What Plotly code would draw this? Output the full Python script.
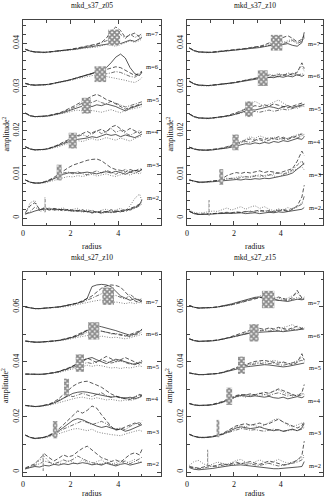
import plotly.graph_objects as go

# radius grid shared by every curve
r = [0.1, 0.3, 0.5, 0.7, 0.9, 1.1, 1.3, 1.5, 1.7, 1.9, 2.1, 2.3, 2.5, 2.7, 2.9,
     3.1, 3.3, 3.5, 3.7, 3.9, 4.1, 4.3, 4.5, 4.7, 4.9, 5.0]
modes = [2, 3, 4, 5, 6, 7]

# amplitude^2 in units of 1e-3, one row per m (2..7), before the vertical offset

# ---- mkd_s37_z05
s37_z05_solid = [
    [1.0,1.2,1.6,1.9,2.0,2.1,2.0,2.0,1.9,1.8,1.6,1.7,1.6,1.5,1.3,1.4,1.2,1.5,1.3,1.6,1.4,1.8,2.0,2.4,3.0,4.2],
    [1.2,0.7,0.5,0.5,0.7,1.0,1.5,2.0,2.5,2.8,2.9,2.7,2.9,3.0,2.8,2.6,2.9,3.1,2.8,3.2,2.9,2.5,3.0,3.4,3.2,3.6],
    [1.3,0.8,0.6,0.6,0.7,0.9,1.2,1.6,2.0,2.4,2.8,3.0,3.1,3.3,3.6,3.4,3.8,4.2,3.9,4.1,3.6,4.0,3.7,3.4,3.9,4.2],
    [1.5,0.9,0.7,0.7,0.8,0.9,1.1,1.3,1.6,2.0,2.4,2.8,3.1,3.3,3.0,3.4,3.2,3.6,3.3,3.0,2.5,2.0,2.6,2.9,3.3,3.6],
    [0.8,0.5,0.4,0.4,0.5,0.6,0.8,1.0,1.2,1.5,1.8,2.1,2.4,2.8,3.1,3.5,3.9,4.4,5.5,6.8,7.5,6.6,4.4,3.0,2.6,3.4],
    [1.1,0.7,0.5,0.4,0.4,0.5,0.6,0.7,0.8,1.0,1.1,1.2,1.4,1.5,1.7,1.9,2.1,2.3,2.5,2.6,2.4,2.8,3.2,2.9,3.4,3.8],
]
s37_z05_dash = [
    [1.2,2.8,3.5,2.0,2.2,1.8,2.2,2.0,1.6,2.0,1.8,1.5,1.9,1.4,1.8,1.2,1.6,1.3,1.9,1.5,1.7,1.4,2.2,2.6,3.2,3.6],
    [1.2,0.7,0.5,0.5,0.8,1.2,1.8,2.6,3.4,4.0,4.6,5.0,5.4,5.7,5.9,6.0,5.6,4.8,4.0,3.6,3.4,3.0,3.6,3.2,3.8,3.5],
    [1.3,0.8,0.6,0.6,0.7,0.9,1.3,1.8,2.4,2.9,3.4,3.8,4.4,4.8,4.2,4.9,5.3,4.6,5.8,6.2,5.4,4.8,5.5,4.9,4.4,4.8],
    [1.5,0.9,0.7,0.7,0.8,1.0,1.2,1.5,1.9,2.4,3.0,3.6,4.2,4.9,5.4,5.8,5.3,4.6,4.2,3.6,3.0,2.4,2.8,3.1,3.5,3.4],
    [0.8,0.5,0.4,0.4,0.5,0.6,0.8,1.0,1.2,1.5,1.8,2.1,2.4,2.7,3.0,3.3,3.6,4.0,4.3,4.6,4.4,3.8,3.1,2.6,3.2,3.6],
    [1.1,0.7,0.5,0.4,0.4,0.5,0.6,0.7,0.8,1.0,1.2,1.4,1.6,1.8,2.0,2.3,2.7,3.6,5.2,6.2,5.4,3.8,4.4,4.8,3.9,4.2],
]
s37_z05_dot = [
    [1.0,3.5,4.0,1.5,1.8,2.4,1.7,2.1,2.3,1.6,2.0,2.2,1.5,1.9,1.6,1.3,1.8,2.0,1.5,1.9,2.2,1.6,2.8,4.5,5.5,3.8],
    [1.1,0.6,0.4,0.4,0.5,0.8,1.1,1.4,1.8,2.0,1.9,2.2,2.0,2.3,2.5,2.1,2.4,2.6,2.2,2.0,2.4,2.8,2.3,2.9,2.6,3.0],
    [1.2,0.7,0.5,0.5,0.6,0.8,1.0,1.3,1.7,2.1,2.4,2.7,2.5,2.9,3.2,2.8,3.0,3.4,3.1,2.8,3.3,3.0,2.6,3.2,3.5,3.8],
    [1.4,0.8,0.6,0.6,0.7,0.8,1.0,1.2,1.4,1.7,2.0,2.2,2.0,1.8,2.1,1.9,1.7,2.0,2.3,1.9,1.6,2.1,2.4,2.6,2.8,3.0],
    [0.7,0.4,0.3,0.3,0.4,0.5,0.7,0.9,1.1,1.3,1.6,1.9,2.1,2.3,2.5,2.8,2.6,2.4,2.2,2.0,1.8,1.5,1.2,1.0,1.6,2.2],
    [1.0,0.6,0.4,0.3,0.3,0.4,0.5,0.6,0.7,0.9,1.0,1.1,1.3,1.4,1.5,1.6,1.9,2.2,2.0,1.8,2.2,2.6,3.0,2.7,3.1,3.5],
]
s37_z05_dashdot = [
    [0.8,1.5,2.5,1.8,2.5,1.9,1.9,1.7,2.0,1.7,1.5,1.8,1.3,1.7,1.1,1.5,1.0,1.4,1.2,1.3,1.6,2.0,1.8,2.2,2.8,3.2],
    [1.2,0.7,0.5,0.5,0.7,1.1,1.6,2.2,2.8,3.0,2.6,3.1,2.6,2.4,2.9,3.3,2.8,3.4,3.0,2.5,3.1,3.6,3.0,2.7,3.3,3.8],
    [1.3,0.8,0.6,0.6,0.7,1.0,1.3,1.7,2.2,2.7,3.2,3.7,4.1,3.6,4.5,5.0,4.3,4.8,5.5,4.6,5.1,4.4,3.9,4.5,5.0,4.6],
    [1.5,0.9,0.7,0.7,0.8,0.9,1.1,1.4,1.8,2.2,2.7,3.2,3.8,3.5,4.0,4.4,3.9,3.6,4.2,3.8,3.3,2.9,3.2,3.6,3.9,4.1],
    [0.8,0.5,0.4,0.4,0.5,0.6,0.8,1.0,1.2,1.5,1.8,2.1,2.4,2.7,3.0,3.3,3.4,3.0,3.2,3.5,3.3,2.8,2.4,2.2,2.9,3.3],
    [1.1,0.7,0.5,0.4,0.4,0.5,0.6,0.7,0.8,1.0,1.1,1.3,1.5,1.7,1.9,2.2,2.6,3.0,3.4,3.9,4.5,3.6,4.6,3.8,4.3,4.7],
]
s37_z05_box_r = [0.93, 1.52, 2.09, 2.66, 3.25, 3.83]
s37_z05_box_w = [0.05, 0.21, 0.34, 0.38, 0.49, 0.50]
s37_z05_box_y = [3.0, 10.4, 17.7, 25.7, 32.9, 41.3]

# ---- mkd_s37_z10
s37_z10_solid = [
    [1.5,1.0,0.8,0.8,0.9,0.9,1.0,1.0,1.1,1.0,1.1,1.2,1.0,1.1,1.2,1.0,1.1,1.3,1.2,1.4,1.3,1.5,1.6,1.8,2.0,2.4],
    [1.2,0.9,0.7,0.7,0.7,0.8,0.9,1.0,1.1,1.2,1.3,1.2,1.4,1.3,1.5,1.4,1.6,1.5,1.7,1.9,2.2,2.4,2.8,3.6,4.5,5.0],
    [1.2,0.8,0.6,0.5,0.5,0.6,0.7,0.8,1.0,1.2,1.5,1.8,2.0,1.9,2.2,2.0,2.3,2.1,2.5,2.3,2.7,2.5,2.9,3.2,3.0,3.5],
    [1.3,0.7,0.4,0.3,0.3,0.4,0.5,0.6,0.8,1.0,1.3,1.7,2.0,2.3,2.2,2.5,2.7,3.0,2.8,2.5,2.9,3.2,2.8,3.1,3.3,3.5],
    [1.3,0.7,0.4,0.3,0.3,0.4,0.5,0.6,0.7,0.9,1.0,1.2,1.4,1.5,1.7,1.9,2.0,2.2,2.1,2.4,2.2,2.5,2.3,2.8,2.4,2.7],
    [1.4,0.8,0.5,0.4,0.4,0.4,0.5,0.6,0.7,0.8,0.9,1.0,1.1,1.3,1.4,1.5,1.7,1.9,2.1,2.0,2.2,2.4,2.0,1.8,2.6,5.0],
]
s37_z10_dash = [
    [1.6,1.1,0.9,0.9,1.0,1.0,1.1,1.2,1.3,1.2,1.4,1.3,1.5,1.4,1.6,1.8,1.5,1.7,1.4,1.6,1.8,1.5,2.0,2.8,4.8,7.5],
    [1.2,0.9,0.7,0.7,0.8,0.9,1.1,1.5,2.2,2.6,2.9,2.7,3.0,2.8,3.1,3.3,2.9,3.2,3.0,2.7,3.1,3.4,3.8,5.5,7.8,6.8],
    [1.2,0.8,0.6,0.5,0.6,0.7,0.8,1.0,1.3,1.7,2.1,2.5,2.8,3.1,2.8,3.2,2.9,3.4,3.1,3.6,3.2,3.0,3.4,3.8,4.2,3.6],
    [1.3,0.7,0.4,0.3,0.3,0.4,0.5,0.7,0.9,1.2,1.6,2.0,2.4,2.8,3.2,3.0,3.4,3.1,3.6,3.3,3.0,2.7,3.1,3.4,3.8,3.6],
    [1.3,0.7,0.4,0.3,0.3,0.4,0.5,0.6,0.8,0.9,1.1,1.3,1.5,1.7,1.9,2.1,2.4,2.7,2.5,2.8,2.6,3.0,2.7,3.3,5.5,4.2],
    [1.4,0.8,0.5,0.4,0.4,0.5,0.6,0.7,0.8,0.9,1.0,1.2,1.3,1.5,1.6,1.8,2.1,2.6,3.0,3.4,3.8,4.2,3.6,2.8,3.4,4.2],
]
s37_z10_dot = [
    [1.8,1.3,1.1,1.2,1.4,1.6,1.5,1.9,2.3,1.8,2.2,2.6,2.0,2.5,2.8,2.2,2.6,2.0,1.7,2.1,1.8,2.4,2.0,2.6,3.5,3.0],
    [1.1,0.8,0.6,0.6,0.7,0.8,1.0,1.3,1.6,1.5,1.8,2.1,1.7,2.0,2.3,1.9,2.2,2.5,2.1,1.9,2.4,2.8,3.2,3.8,4.2,3.5],
    [1.1,0.7,0.5,0.5,0.5,0.6,0.8,1.0,1.2,1.6,2.0,2.5,3.0,3.6,3.2,3.8,3.4,3.0,3.5,3.2,2.9,3.3,3.7,4.0,4.4,4.0],
    [1.2,0.6,0.3,0.2,0.2,0.3,0.4,0.6,0.8,1.1,1.5,2.0,2.6,3.4,4.2,3.6,3.0,3.5,4.0,4.5,3.8,3.2,2.8,2.6,3.0,3.4],
    [1.2,0.6,0.3,0.2,0.2,0.3,0.4,0.5,0.7,0.8,1.0,1.2,1.4,1.6,1.8,2.1,2.5,2.9,2.6,3.1,2.7,3.2,2.9,3.5,4.8,3.6],
    [1.3,0.7,0.4,0.3,0.3,0.4,0.5,0.6,0.7,0.8,0.9,1.1,1.2,1.4,1.5,1.7,2.0,2.4,2.8,3.1,2.7,3.0,3.4,2.5,3.0,3.6],
]
s37_z10_dashdot = [
    [1.5,1.0,0.8,0.8,0.9,1.0,1.0,1.1,1.2,1.1,1.3,1.2,1.4,1.6,1.3,1.5,1.7,1.4,1.6,1.8,2.0,1.7,2.2,2.5,3.2,5.0],
    [1.2,0.9,0.7,0.7,0.8,0.9,1.0,1.2,1.4,1.6,1.5,1.8,2.0,1.8,2.1,2.4,2.0,2.3,2.6,2.9,2.5,3.0,3.5,4.6,5.6,4.5],
    [1.2,0.8,0.6,0.5,0.5,0.6,0.7,0.9,1.1,1.4,1.8,2.2,2.5,2.3,2.7,2.9,2.5,2.8,3.2,2.9,3.5,3.1,3.6,3.3,3.8,4.1],
    [1.3,0.7,0.4,0.3,0.3,0.4,0.5,0.6,0.8,1.0,1.3,1.5,1.8,1.6,1.9,1.7,2.0,2.2,1.9,2.1,2.4,2.2,2.6,2.9,3.2,3.0],
    [1.3,0.7,0.4,0.3,0.3,0.4,0.5,0.6,0.7,0.9,1.1,1.3,1.5,1.6,1.8,2.0,2.3,2.1,2.6,2.3,2.8,2.5,3.1,2.6,3.0,2.8],
    [1.4,0.8,0.5,0.4,0.4,0.4,0.5,0.6,0.7,0.8,1.0,1.1,1.2,1.4,1.5,1.6,1.8,2.0,2.3,2.6,2.4,2.8,3.1,2.4,2.9,3.8],
]
s37_z10_box_r = [0.94, 1.46, 2.07, 2.64, 3.23, 3.82]
s37_z10_box_w = [0.05, 0.17, 0.27, 0.32, 0.42, 0.49]
s37_z10_box_y = [2.3, 9.4, 17.3, 24.9, 32.0, 40.1]

# ---- mkd_s27_z10
s27_z10_solid = [
    [1.2,1.5,2.0,1.8,2.4,2.2,2.8,2.5,3.0,2.7,3.2,3.0,3.4,3.1,2.6,2.9,2.5,3.2,2.6,2.2,2.8,3.1,2.5,3.0,3.4,3.6],
    [1.6,0.8,0.4,0.5,0.8,1.4,2.2,3.2,4.4,5.6,7.0,7.6,7.2,6.4,5.5,4.9,4.4,4.8,4.2,3.6,3.8,3.0,3.5,4.2,4.8,5.4],
    [0.6,0.3,0.2,0.3,0.5,0.9,1.5,2.2,3.2,4.2,5.0,5.4,5.6,5.4,5.0,4.8,4.4,4.0,3.6,3.8,3.4,3.2,3.6,3.0,3.6,4.2],
    [0.2,0.1,0.0,0.1,0.2,0.4,0.7,1.1,1.6,2.2,3.0,3.8,4.8,5.8,6.2,5.4,4.6,4.0,4.8,5.6,5.2,4.6,4.0,3.6,4.4,4.2],
    [0.4,0.1,0.0,0.0,0.1,0.2,0.4,0.6,0.9,1.3,1.8,2.4,3.2,4.2,5.2,6.0,5.6,5.2,4.8,4.2,3.6,3.0,2.5,2.9,3.8,4.8],
    [1.0,0.6,0.4,0.4,0.5,0.6,0.8,1.0,1.3,1.6,2.0,2.4,3.0,4.2,8.4,9.0,9.2,9.0,8.4,6.8,5.0,4.2,3.4,4.0,3.2,3.0],
]
s27_z10_dash = [
    [1.5,2.2,3.0,4.8,6.6,5.2,4.0,5.0,6.2,5.5,6.0,7.4,8.6,9.4,8.0,6.5,5.2,4.6,3.8,4.4,3.6,5.0,6.4,7.0,6.2,8.2],
    [1.6,0.8,0.4,0.5,0.9,1.6,2.6,3.8,5.4,7.2,8.8,10.4,9.6,10.6,12.2,11.4,9.0,6.8,4.8,3.4,3.8,4.6,5.2,6.0,5.4,6.8],
    [0.6,0.3,0.2,0.3,0.6,1.1,1.9,3.0,4.6,6.2,7.6,8.6,9.2,9.4,8.8,8.0,7.2,6.0,4.8,4.0,3.4,3.0,2.8,3.6,4.4,4.0],
    [0.2,0.1,0.0,0.1,0.2,0.4,0.7,1.1,1.7,2.4,3.2,4.2,5.2,6.0,5.2,4.4,5.6,6.6,5.8,4.8,5.4,6.2,5.4,4.6,3.8,4.8],
    [0.4,0.1,0.0,0.0,0.1,0.2,0.4,0.7,1.0,1.5,2.0,2.8,3.6,4.4,4.9,4.6,4.0,3.6,3.2,3.0,2.6,2.2,2.8,3.4,4.0,4.4],
    [1.0,0.6,0.4,0.4,0.5,0.6,0.8,1.0,1.3,1.6,2.0,2.5,3.2,4.0,5.0,6.4,7.8,8.6,9.0,8.8,8.2,6.4,4.6,3.2,2.6,3.4],
]
s27_z10_dot = [
    [1.0,1.6,2.8,4.2,5.6,3.8,2.6,3.4,2.8,4.2,3.6,2.9,4.6,3.4,2.6,3.8,4.4,3.2,2.6,3.5,4.2,3.0,3.8,4.6,3.4,4.0],
    [1.5,0.7,0.3,0.4,0.6,1.0,1.6,2.2,2.8,3.4,3.8,4.0,3.6,3.2,3.8,2.8,2.4,2.0,1.8,1.6,1.4,2.0,2.6,3.0,3.4,3.0],
    [0.5,0.2,0.1,0.2,0.4,0.7,1.1,1.6,2.2,2.6,3.0,3.4,3.6,3.2,2.9,3.4,3.0,2.6,2.8,2.4,2.2,2.6,2.4,2.8,3.4,3.8],
    [0.1,0.0,0.0,0.0,0.1,0.3,0.5,0.8,1.2,1.6,2.0,2.6,3.0,3.4,3.0,3.4,3.2,2.8,2.4,2.6,2.2,2.6,2.4,2.8,3.2,2.9],
    [0.3,0.0,0.0,0.0,0.0,0.1,0.3,0.5,0.7,1.0,1.4,1.8,2.2,2.4,2.0,1.8,2.2,2.0,1.6,1.8,1.4,1.2,1.6,2.0,2.4,2.8],
    [0.9,0.5,0.3,0.3,0.4,0.5,0.6,0.8,1.0,1.2,1.5,1.8,2.2,2.6,3.0,3.2,3.6,3.0,2.6,2.8,2.4,2.2,2.6,2.2,2.8,2.4],
]
s27_z10_dashdot = [
    [1.3,1.8,2.4,3.0,4.0,3.4,3.0,3.6,4.4,3.8,4.6,5.8,4.8,4.0,3.4,3.0,2.8,3.6,3.0,2.6,3.4,4.0,3.0,3.8,4.8,5.4],
    [1.6,0.8,0.4,0.5,0.8,1.3,2.0,2.8,3.8,4.6,5.2,6.0,6.8,6.2,5.4,6.0,6.6,5.8,4.6,3.8,4.2,3.6,4.8,5.6,6.2,5.0],
    [0.6,0.3,0.2,0.3,0.5,0.9,1.6,2.5,3.6,4.2,3.8,4.4,5.0,4.4,3.8,4.6,5.2,4.2,3.6,4.0,3.2,3.4,2.9,3.8,4.6,4.4],
    [0.2,0.1,0.0,0.1,0.2,0.4,0.7,1.0,1.5,2.0,2.6,3.2,3.8,4.4,4.0,4.8,5.4,4.8,4.2,4.6,5.0,4.4,3.8,4.0,4.6,5.2],
    [0.4,0.1,0.0,0.0,0.1,0.2,0.4,0.6,0.9,1.3,1.8,2.2,2.8,3.6,3.0,3.4,4.0,3.6,3.0,3.2,2.8,2.4,2.0,2.6,3.2,3.6],
    [1.0,0.6,0.4,0.4,0.5,0.6,0.8,1.0,1.3,1.6,2.0,2.4,2.8,3.4,4.2,5.0,5.8,5.2,4.6,5.2,4.4,3.8,5.6,4.2,3.6,4.0],
]
s27_z10_box_r = [0.85, 1.35, 1.83, 2.39, 2.97, 3.58]
s27_z10_box_w = [0.05, 0.19, 0.21, 0.35, 0.47, 0.49]
s27_z10_box_y = [3.5, 15.4, 30.8, 39.6, 51.3, 63.9]

# ---- mkd_s27_z15
s27_z15_solid = [
    [1.6,1.0,0.8,0.9,1.0,1.3,1.6,1.9,2.2,2.4,2.5,2.6,2.4,2.2,2.0,1.8,1.5,1.3,1.2,1.2,1.3,1.5,1.6,1.8,2.0,3.8],
    [1.9,1.2,0.8,0.7,0.8,1.0,1.4,1.9,2.6,3.4,4.2,4.6,4.4,4.0,4.2,4.6,4.0,3.6,3.2,3.6,3.0,3.4,3.8,3.2,4.2,5.8],
    [1.3,0.8,0.6,0.6,0.7,0.9,1.2,1.7,2.4,3.2,3.8,4.2,4.0,3.8,4.1,3.8,3.6,3.9,3.4,3.2,3.6,3.0,3.4,3.8,3.4,3.9],
    [0.6,0.2,0.0,0.0,0.1,0.2,0.4,0.7,1.1,1.6,2.1,2.5,2.8,3.0,3.2,3.4,3.6,3.5,3.2,3.0,2.8,3.0,3.4,3.6,4.0,4.2],
    [1.2,0.6,0.3,0.3,0.4,0.5,0.7,1.0,1.4,1.8,2.2,2.6,3.0,3.3,3.5,3.6,3.8,3.7,3.9,4.0,3.8,4.0,4.2,4.4,4.6,4.8],
    [1.5,0.9,0.6,0.6,0.7,0.8,1.0,1.3,1.7,2.1,2.6,3.1,3.6,4.2,4.5,4.6,4.4,4.0,3.6,3.4,3.2,3.0,3.4,3.8,3.6,3.8],
]
s27_z15_dash = [
    [2.0,1.6,1.4,1.8,2.4,2.0,2.6,3.0,2.6,3.2,3.6,3.0,3.4,3.8,3.2,2.8,3.4,4.0,3.6,3.0,2.6,2.8,3.4,4.2,6.0,11.2],
    [1.9,1.2,0.8,0.7,0.9,1.1,1.5,2.1,3.0,4.0,5.0,5.4,5.8,5.2,5.6,6.0,5.4,5.8,6.6,7.4,6.4,5.6,4.8,4.2,5.0,6.6],
    [1.3,0.8,0.6,0.6,0.7,1.0,1.4,2.0,2.8,3.6,4.2,4.6,4.4,4.8,4.4,4.9,5.4,5.0,5.8,6.6,6.0,5.2,4.6,4.0,5.2,8.2],
    [0.6,0.2,0.0,0.0,0.1,0.2,0.4,0.8,1.3,1.9,2.6,3.2,3.8,4.4,4.8,5.0,5.2,4.8,4.4,4.2,4.6,4.0,3.6,4.4,7.6,5.2],
    [1.2,0.6,0.3,0.3,0.4,0.6,0.8,1.1,1.5,2.0,2.6,3.2,3.8,4.3,4.8,5.0,4.6,5.2,4.8,5.4,5.0,4.6,5.2,5.8,5.0,5.6],
    [1.5,0.9,0.6,0.6,0.7,0.8,1.0,1.2,1.5,1.8,2.2,2.6,3.0,3.4,3.9,4.4,4.8,4.4,4.0,4.6,4.2,3.6,4.4,7.0,4.2,4.6],
]
s27_z15_dot = [
    [2.4,3.8,4.2,3.0,2.2,2.8,3.6,3.2,2.8,3.4,4.2,4.6,3.6,3.0,3.8,4.4,3.6,3.0,3.8,4.6,3.8,3.2,3.6,4.4,5.2,6.4],
    [1.8,1.1,0.7,0.6,0.8,1.0,1.4,2.0,2.8,3.8,4.6,5.0,4.6,5.4,5.0,4.6,5.2,6.2,7.2,7.6,6.4,5.2,4.6,5.4,6.0,5.4],
    [1.2,0.7,0.5,0.5,0.6,0.8,1.1,1.6,2.2,3.0,3.6,4.0,3.6,4.2,4.6,4.0,4.4,5.0,5.8,6.2,5.4,4.6,4.0,4.4,5.0,4.6],
    [0.5,0.1,0.0,0.0,0.1,0.2,0.4,0.7,1.1,1.7,2.4,3.0,3.4,3.8,4.2,4.6,4.4,4.8,5.2,4.8,4.2,3.8,4.4,5.0,6.4,5.4],
    [1.1,0.5,0.2,0.2,0.3,0.5,0.7,1.0,1.4,1.9,2.5,3.1,3.6,4.0,4.4,4.2,4.6,5.0,4.4,4.8,5.4,5.8,6.4,5.2,4.6,5.0],
    [1.4,0.8,0.5,0.5,0.6,0.7,0.9,1.1,1.4,1.7,2.1,2.5,3.0,3.6,4.2,4.8,5.6,5.0,4.6,4.0,3.8,4.2,5.2,6.0,4.4,4.0],
]
s27_z15_dashdot = [
    [1.8,1.4,1.2,1.4,1.8,2.2,2.0,2.4,2.8,2.6,3.0,3.2,2.8,3.0,2.6,2.4,2.8,3.2,2.6,2.2,2.4,2.8,3.2,3.6,4.4,5.6],
    [1.9,1.2,0.8,0.7,0.8,1.0,1.3,1.8,2.4,3.0,3.6,4.0,3.8,3.4,3.6,3.2,3.0,3.4,3.8,3.4,3.0,3.2,3.6,3.2,3.8,4.4],
    [1.3,0.8,0.6,0.6,0.7,0.9,1.2,1.8,2.6,3.4,4.0,4.3,4.5,4.2,4.6,5.0,4.6,4.2,4.8,5.2,4.6,4.0,4.4,4.0,4.4,5.0],
    [0.6,0.2,0.0,0.0,0.1,0.2,0.4,0.7,1.2,1.8,2.4,2.9,3.3,3.6,3.9,4.1,3.8,4.0,4.2,3.6,3.4,3.8,4.2,4.6,5.2,4.8],
    [1.2,0.6,0.3,0.3,0.4,0.5,0.7,1.0,1.3,1.7,2.1,2.6,3.1,3.5,3.8,4.1,4.3,4.0,4.4,4.1,4.5,4.2,4.8,4.4,5.0,5.3],
    [1.5,0.9,0.6,0.6,0.7,0.8,1.0,1.2,1.5,1.9,2.3,2.8,3.3,3.8,4.2,4.5,4.0,3.6,3.9,3.4,3.6,3.2,3.8,4.4,3.9,4.2],
]
s27_z15_box_r = [0.88, 1.32, 1.80, 2.32, 2.86, 3.46]
s27_z15_box_w = [0.05, 0.12, 0.25, 0.29, 0.39, 0.53]
s27_z15_box_y = [4.9, 15.8, 27.5, 38.8, 50.6, 62.7]

panels = [
    dict(name="mkd_s37_z05", curves=[s37_z05_solid, s37_z05_dash, s37_z05_dot, s37_z05_dashdot],
         box_r=s37_z05_box_r, box_w=s37_z05_box_w, box_y=s37_z05_box_y, step=7.5),
    dict(name="mkd_s37_z10", curves=[s37_z10_solid, s37_z10_dash, s37_z10_dot, s37_z10_dashdot],
         box_r=s37_z10_box_r, box_w=s37_z10_box_w, box_y=s37_z10_box_y, step=7.5),
    dict(name="mkd_s27_z10", curves=[s27_z10_solid, s27_z10_dash, s27_z10_dot, s27_z10_dashdot],
         box_r=s27_z10_box_r, box_w=s27_z10_box_w, box_y=s27_z10_box_y, step=11.8),
    dict(name="mkd_s27_z15", curves=[s27_z15_solid, s27_z15_dash, s27_z15_dot, s27_z15_dashdot],
         box_r=s27_z15_box_r, box_w=s27_z15_box_w, box_y=s27_z15_box_y, step=11.8),
]

# layout bits (pixels of a 325x500 page)
W, H = 325, 500
xdom = [[23, 161], [187, 323], [23, 161], [187, 323]]
ydom = [[20, 225], [20, 225], [272, 476], [272, 476]]
yrng = [[-0.0016, 0.0453], [-0.0016, 0.0453], [-0.00145, 0.0727], [-0.00145, 0.0727]]
ydt = [0.01, 0.01, 0.02, 0.02]
yminor = [0.002, 0.002, 0.01, 0.01]
box_h = [3.6, 3.6, 6.3, 6.3]
label_gap = [4.7, 2.5, 3.0, 2.5]
title_below = [21, 21, 17, 17]
line_styles = [
    dict(color="#111", width=0.7, dash="solid"),
    dict(color="#111", width=0.7, dash="4px,2px"),
    dict(color="#666", width=0.8, dash="1px,1.5px"),
    dict(color="#333", width=0.7, dash="4px,1.5px,1px,1.5px"),
]
FONT = "Liberation Serif, Times New Roman, serif"

fig = go.Figure()
annotations = []

for i, p in enumerate(panels):
    xa = "x" if i == 0 else "x%d" % (i + 1)
    ya = "y" if i == 0 else "y%d" % (i + 1)
    for k, m in enumerate(modes):
        off = p["step"] * k
        for c, style in zip(p["curves"], line_styles):
            vals = c[k]
            assert len(vals) == len(r), (p["name"], m)
            fig.add_trace(go.Scatter(x=r, y=[(off + v) / 1000 for v in vals], mode="lines",
                                     line=style, xaxis=xa, yaxis=ya, showlegend=False,
                                     hoverinfo="skip"))
        # checkered box
        rc, w, yc = p["box_r"][k], p["box_w"][k], p["box_y"][k]
        h = box_h[i]
        bx = [rc - w / 2, rc + w / 2, rc + w / 2, rc - w / 2, rc - w / 2]
        by = [(yc - h / 2) / 1000, (yc - h / 2) / 1000, (yc + h / 2) / 1000,
              (yc + h / 2) / 1000, (yc - h / 2) / 1000]
        fig.add_trace(go.Scatter(x=bx, y=by, mode="lines", fill="toself",
                                 line=dict(width=0, color="rgba(0,0,0,0)"),
                                 fillpattern=dict(shape="x", size=3.5, solidity=0.75,
                                                  fgcolor="#111", bgcolor="white"),
                                 xaxis=xa, yaxis=ya, showlegend=False, hoverinfo="skip"))
        annotations.append(dict(x=5.45, y=(off + label_gap[i]) / 1000, xref=xa, yref=ya,
                                text="m=%d" % m, showarrow=False,
                                xanchor="center", yanchor="middle",
                                font=dict(family=FONT, size=6.5, color="#111")))

    x0, x1 = xdom[i]
    y0, y1 = ydom[i]
    axis_common = dict(showline=True, linecolor="#444", linewidth=1, mirror="ticks",
                       ticks="inside", ticklen=4, tickcolor="#444", showgrid=False,
                       zeroline=False, automargin=False,
                       tickfont=dict(family=FONT, size=8, color="#111"))
    fig.layout["xaxis" if i == 0 else "xaxis%d" % (i + 1)] = dict(
        domain=[x0 / W, x1 / W], anchor=ya, range=[0, 5.8], tickvals=[0, 2, 4],
        minor=dict(dtick=1, ticks="inside", ticklen=2.5, tickcolor="#444"),
        **axis_common)
    fig.layout["yaxis" if i == 0 else "yaxis%d" % (i + 1)] = dict(
        domain=[1 - y1 / H, 1 - y0 / H], anchor=xa, range=yrng[i], dtick=ydt[i],
        tickangle=-90, minor=dict(dtick=yminor[i], ticks="inside", ticklen=2.5, tickcolor="#444"),
        **axis_common)

    cx = (x0 + x1) / 2 / W
    annotations.append(dict(x=cx, y=1 - (y0 - 15) / H, xref="paper", yref="paper",
                            text=p["name"], showarrow=False,
                            xanchor="center", yanchor="middle",
                            font=dict(family=FONT, size=7.5, color="#111")))
    annotations.append(dict(x=cx, y=1 - (y1 + title_below[i]) / H, xref="paper", yref="paper",
                            text="radius", showarrow=False,
                            xanchor="center", yanchor="middle",
                            font=dict(family=FONT, size=8, color="#111")))
    annotations.append(dict(x=(x0 - 18) / W, y=1 - ((y0 + y1) / 2 + 12) / H,
                            xref="paper", yref="paper", text="amplitude<sup>2</sup>",
                            textangle=-90, showarrow=False,
                            xanchor="center", yanchor="middle",
                            font=dict(family=FONT, size=8, color="#111")))

fig.update_layout(width=W, height=H, margin=dict(l=0, r=0, t=0, b=0),
                  paper_bgcolor="white", plot_bgcolor="white",
                  annotations=annotations)

# the default page has an 8px body margin; drop it so the figure fills the window
fig.write_html("out.html", config={"displayModeBar": False},
               post_script="document.body.style.margin='0';")
